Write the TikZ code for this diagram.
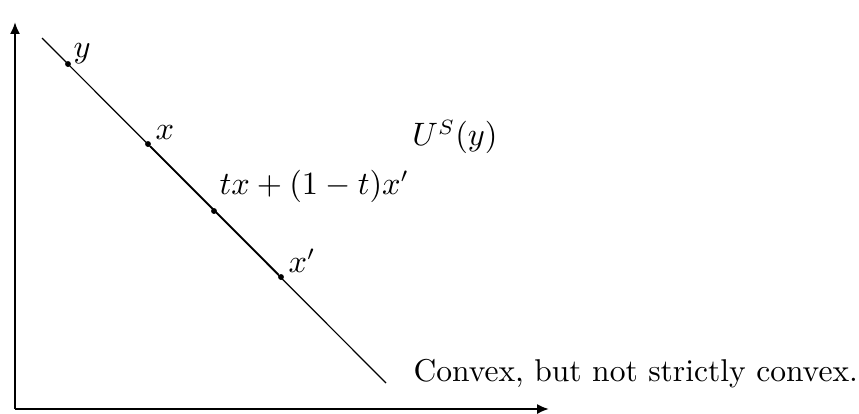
\documentclass[tikz,border=0pt]{standalone}
\usepackage{amsmath,amssymb}
\usepackage{tikz}
\usetikzlibrary{arrows.meta,calc,positioning}
\tikzset{axis/.style={-{Latex[length=1.4mm,width=1.2mm]},line width=0.9pt},
  pt/.style={circle,fill,inner sep=0pt,minimum size=0.7mm},
  lbl/.style={inner sep=1pt}}

\begin{document}
\begin{tikzpicture}[x=0.011874cm,y=-0.011874cm,font=\fontsize{10.65}{13}\selectfont]
\useasboundingbox (0,0) rectangle (859,413);
% axes
\coordinate (o) at (15,409);
\coordinate (ytop) at (15,22);
\coordinate (xend) at (549,409);
\draw[axis] (o) -- (ytop);
\draw[axis] (o) -- (xend);
% the line
\coordinate (a) at (42,38);
\coordinate (b) at (386,383);
\draw[line width=0.4pt] (a) -- (b);
\node[pt] (py) at (68,64) {};
\node[pt] (px) at (148,144) {};
\node[pt] (pm) at (214,211) {};
\node[pt] (pxp) at (281,277) {};
\draw[line width=0.6pt] (px) -- (pxp);
\node[lbl,anchor=south west] (ly) at (70,67) {$y$};
\node[lbl,anchor=south west] (lx) at (152,143) {$x$};
\node[lbl,anchor=south west] (lm) at (216,206) {$tx+(1-t)x'$};
\node[lbl,anchor=south west] (lxp) at (285,276) {$x'$};
\node[lbl] (us) at (455,137) {$U^S(y)$};
\node[lbl,anchor=west] (txt) at (410,374) {Convex, but not strictly convex.};
\end{tikzpicture}
\end{document}
